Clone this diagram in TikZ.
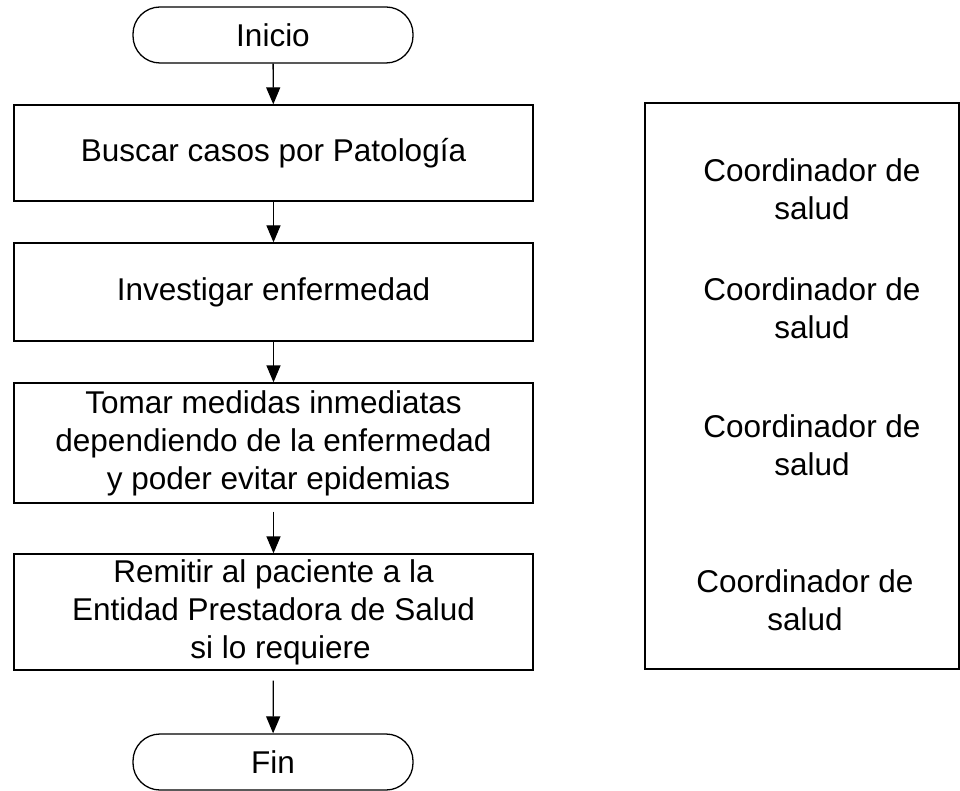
\documentclass[tikz,border=0pt]{standalone}
\usepackage{fontspec}
\setmainfont{Liberation Sans}
\usetikzlibrary{arrows.meta}
\begin{document}
\begin{tikzpicture}[x=1pt,y=-1pt,
  every node/.style={font=\fontsize{31.5}{38}\selectfont, inner sep=0pt},
  procbox/.style={draw, line width=1.3pt, minimum width=519pt, align=center},
  termbox/.style={draw, line width=1.3pt, rounded corners=27pt, minimum width=280pt, minimum height=56pt},
  rolebox/.style={draw, line width=1.3pt, minimum width=314pt, minimum height=566pt},
  flow/.style={-{Triangle[width=14pt,length=17pt]}, line width=1.3pt},
  role/.style={align=center}]
\useasboundingbox (0,0) rectangle (960,791);
\node[termbox] (inicio) at (273,35) {Inicio};
\node[procbox, minimum height=96pt] (b1) at (273.5,153) {Buscar casos por Patología};
\node[procbox, minimum height=98pt] (b2) at (273.5,292) {Investigar enfermedad};
\node[procbox, minimum height=120pt] (b3) at (273.5,443) {Tomar medidas inmediatas\\dependiendo de la enfermedad\\\hspace*{10pt}y poder evitar epidemias};
\node[procbox, minimum height=116pt] (b4) at (273.5,612) {Remitir al paciente a la\\Entidad Prestadora de Salud\\\hspace*{14pt}si lo requiere};
\node[termbox] (fin) at (273,762) {Fin};
\draw[flow] (inicio) -- (b1);
\draw[flow] (b1) -- (b2);
\draw[flow] (b2) -- (b3);
\draw[flow, shorten <=8pt] (b3) -- (b4);
\draw[flow, shorten <=10pt] (b4) -- (fin);
\node[rolebox] (roles) at (802,386) {};
\node[role] (r1) at (812,189) {Coordinador de\\salud};
\node[role] (r2) at (812,308) {Coordinador de\\salud};
\node[role] (r3) at (812,445) {Coordinador de\\salud};
\node[role] (r4) at (805,600.5) {Coordinador de\\salud};
\end{tikzpicture}
\end{document}
